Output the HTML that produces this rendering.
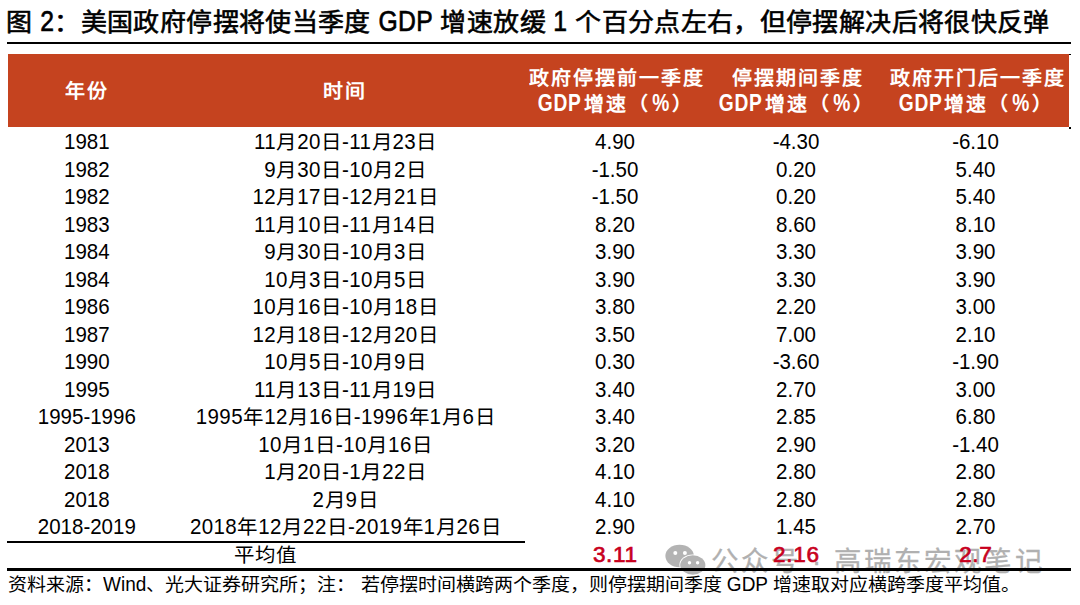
<!DOCTYPE html>
<html lang="zh-CN"><head><meta charset="utf-8"><style>
html,body{margin:0;padding:0;background:#fff;}
body{width:1080px;height:605px;overflow:hidden;position:relative;font-family:"Liberation Sans",sans-serif;color:#000;}
.S{display:inline-block;}
.title{position:absolute;left:6.3px;top:4px;font-size:26px;font-weight:400;-webkit-text-stroke:0.6px #000;white-space:nowrap;line-height:36px;letter-spacing:0.36px;}
.line{position:absolute;background:#000;}
.hdr{position:absolute;left:7.5px;top:54px;width:1061.5px;height:73px;background:#C5431F;}
.h{position:absolute;width:400px;text-align:center;color:#fff;font-weight:700;font-size:20px;line-height:25.5px;white-space:nowrap;letter-spacing:2px;text-indent:2px;}
.h .S.L{letter-spacing:0.7px;}
.row{position:absolute;left:0;width:1080px;height:27.52px;}
.c{position:absolute;top:0;width:400px;text-align:center;font-size:20.5px;line-height:27.52px;white-space:nowrap;}
.d{letter-spacing:0.4px;text-indent:0.4px;}
.red{color:#C8001E;font-weight:400;-webkit-text-stroke:0.7px #C8001E;font-size:22.5px;top:0px;letter-spacing:0.7px;text-indent:0.7px;}
.avg{top:0px;letter-spacing:1px;text-indent:1px;}
.wm{position:absolute;color:#b0b0b0;font-size:27.5px;white-space:nowrap;letter-spacing:3.1px;line-height:30px;-webkit-text-stroke:0.3px #b0b0b0;}
.foot{position:absolute;left:8px;top:571.5px;font-size:19px;line-height:26px;white-space:nowrap;}
</style></head><body>
<div class="title"><span class="S" style="transform:scaleY(0.94);transform-origin:50% 27.01px">图</span> <span class="S L" style="transform:scale(0.95,1.13);transform-origin:50% 27.01px;margin:0 -0.37px">2</span><span class="S" style="transform:scaleY(0.94);transform-origin:50% 27.01px">：美国政府停摆将使当季度</span> <span class="S L" style="transform:scale(0.95,1.13);transform-origin:50% 27.01px;margin:0 -1.44px">GDP</span> <span class="S" style="transform:scaleY(0.94);transform-origin:50% 27.01px">增速放缓</span> <span class="S L" style="transform:scale(0.95,1.13);transform-origin:50% 27.01px;margin:0 -0.37px">1</span> <span class="S" style="transform:scaleY(0.94);transform-origin:50% 27.01px">个百分点左右，但停摆解决后将很快反弹</span></div>
<div class="line" style="left:7px;top:42px;width:1064px;height:2px"></div>
<div class="hdr"></div>
<div class="h" style="left:-114.7px;top:78.8px"><span class="S" style="transform:scaleY(0.95);transform-origin:50% 19.68px">年份</span></div>
<div class="h" style="left:143px;top:78.8px"><span class="S" style="transform:scaleY(0.95);transform-origin:50% 19.68px">时间</span></div>
<div class="h" style="left:415px;top:66px"><span class="S" style="transform:scaleY(0.95);transform-origin:50% 19.68px">政府停摆前一季度</span><br><span class="S L" style="transform:scale(0.96,1.16);transform-origin:50% 19.68px;margin:0 -0.91px">GDP</span><span class="S" style="transform:scaleY(0.95);transform-origin:50% 19.68px">增速（</span><span class="S L" style="transform:scale(0.96,1.16);transform-origin:50% 19.68px;margin:0 -0.37px">%</span><span class="S" style="transform:scaleY(0.95);transform-origin:50% 19.68px">）</span></div>
<div class="h" style="left:596px;top:66px"><span class="S" style="transform:scaleY(0.95);transform-origin:50% 19.68px">停摆期间季度</span><br><span class="S L" style="transform:scale(0.96,1.16);transform-origin:50% 19.68px;margin:0 -0.91px">GDP</span><span class="S" style="transform:scaleY(0.95);transform-origin:50% 19.68px">增速（</span><span class="S L" style="transform:scale(0.96,1.16);transform-origin:50% 19.68px;margin:0 -0.37px">%</span><span class="S" style="transform:scaleY(0.95);transform-origin:50% 19.68px">）</span></div>
<div class="h" style="left:775.5px;top:66px"><span class="S" style="transform:scaleY(0.95);transform-origin:50% 19.68px">政府开门后一季度</span><br><span class="S L" style="transform:scale(0.96,1.16);transform-origin:50% 19.68px;margin:0 -0.91px">GDP</span><span class="S" style="transform:scaleY(0.95);transform-origin:50% 19.68px">增速（</span><span class="S L" style="transform:scale(0.96,1.16);transform-origin:50% 19.68px;margin:0 -0.37px">%</span><span class="S" style="transform:scaleY(0.95);transform-origin:50% 19.68px">）</span></div>

<div class="row" style="top:128.20px"><div class="c " style="left:-113.2px"><span class="S L" style="transform:scale(1.0,1.06);transform-origin:50% 20.86px">1981</span></div><div class="c  d" style="left:145.0px"><span class="S L" style="transform:scale(1.0,1.06);transform-origin:50% 20.86px">11</span><span class="S" style="transform:scaleY(0.95);transform-origin:50% 20.86px">月</span><span class="S L" style="transform:scale(1.0,1.06);transform-origin:50% 20.86px">20</span><span class="S" style="transform:scaleY(0.95);transform-origin:50% 20.86px">日</span><span class="S L" style="transform:scale(1.0,1.06);transform-origin:50% 20.86px">-11</span><span class="S" style="transform:scaleY(0.95);transform-origin:50% 20.86px">月</span><span class="S L" style="transform:scale(1.0,1.06);transform-origin:50% 20.86px">23</span><span class="S" style="transform:scaleY(0.95);transform-origin:50% 20.86px">日</span></div><div class="c " style="left:415.0px"><span class="S L" style="transform:scale(1.0,1.06);transform-origin:50% 20.86px">4.90</span></div><div class="c " style="left:596.0px"><span class="S L" style="transform:scale(1.0,1.06);transform-origin:50% 20.86px">-4.30</span></div><div class="c " style="left:775.5px"><span class="S L" style="transform:scale(1.0,1.06);transform-origin:50% 20.86px">-6.10</span></div></div>
<div class="row" style="top:155.72px"><div class="c " style="left:-113.2px"><span class="S L" style="transform:scale(1.0,1.06);transform-origin:50% 20.86px">1982</span></div><div class="c  d" style="left:145.0px"><span class="S L" style="transform:scale(1.0,1.06);transform-origin:50% 20.86px">9</span><span class="S" style="transform:scaleY(0.95);transform-origin:50% 20.86px">月</span><span class="S L" style="transform:scale(1.0,1.06);transform-origin:50% 20.86px">30</span><span class="S" style="transform:scaleY(0.95);transform-origin:50% 20.86px">日</span><span class="S L" style="transform:scale(1.0,1.06);transform-origin:50% 20.86px">-10</span><span class="S" style="transform:scaleY(0.95);transform-origin:50% 20.86px">月</span><span class="S L" style="transform:scale(1.0,1.06);transform-origin:50% 20.86px">2</span><span class="S" style="transform:scaleY(0.95);transform-origin:50% 20.86px">日</span></div><div class="c " style="left:415.0px"><span class="S L" style="transform:scale(1.0,1.06);transform-origin:50% 20.86px">-1.50</span></div><div class="c " style="left:596.0px"><span class="S L" style="transform:scale(1.0,1.06);transform-origin:50% 20.86px">0.20</span></div><div class="c " style="left:775.5px"><span class="S L" style="transform:scale(1.0,1.06);transform-origin:50% 20.86px">5.40</span></div></div>
<div class="row" style="top:183.24px"><div class="c " style="left:-113.2px"><span class="S L" style="transform:scale(1.0,1.06);transform-origin:50% 20.86px">1982</span></div><div class="c  d" style="left:145.0px"><span class="S L" style="transform:scale(1.0,1.06);transform-origin:50% 20.86px">12</span><span class="S" style="transform:scaleY(0.95);transform-origin:50% 20.86px">月</span><span class="S L" style="transform:scale(1.0,1.06);transform-origin:50% 20.86px">17</span><span class="S" style="transform:scaleY(0.95);transform-origin:50% 20.86px">日</span><span class="S L" style="transform:scale(1.0,1.06);transform-origin:50% 20.86px">-12</span><span class="S" style="transform:scaleY(0.95);transform-origin:50% 20.86px">月</span><span class="S L" style="transform:scale(1.0,1.06);transform-origin:50% 20.86px">21</span><span class="S" style="transform:scaleY(0.95);transform-origin:50% 20.86px">日</span></div><div class="c " style="left:415.0px"><span class="S L" style="transform:scale(1.0,1.06);transform-origin:50% 20.86px">-1.50</span></div><div class="c " style="left:596.0px"><span class="S L" style="transform:scale(1.0,1.06);transform-origin:50% 20.86px">0.20</span></div><div class="c " style="left:775.5px"><span class="S L" style="transform:scale(1.0,1.06);transform-origin:50% 20.86px">5.40</span></div></div>
<div class="row" style="top:210.76px"><div class="c " style="left:-113.2px"><span class="S L" style="transform:scale(1.0,1.06);transform-origin:50% 20.86px">1983</span></div><div class="c  d" style="left:145.0px"><span class="S L" style="transform:scale(1.0,1.06);transform-origin:50% 20.86px">11</span><span class="S" style="transform:scaleY(0.95);transform-origin:50% 20.86px">月</span><span class="S L" style="transform:scale(1.0,1.06);transform-origin:50% 20.86px">10</span><span class="S" style="transform:scaleY(0.95);transform-origin:50% 20.86px">日</span><span class="S L" style="transform:scale(1.0,1.06);transform-origin:50% 20.86px">-11</span><span class="S" style="transform:scaleY(0.95);transform-origin:50% 20.86px">月</span><span class="S L" style="transform:scale(1.0,1.06);transform-origin:50% 20.86px">14</span><span class="S" style="transform:scaleY(0.95);transform-origin:50% 20.86px">日</span></div><div class="c " style="left:415.0px"><span class="S L" style="transform:scale(1.0,1.06);transform-origin:50% 20.86px">8.20</span></div><div class="c " style="left:596.0px"><span class="S L" style="transform:scale(1.0,1.06);transform-origin:50% 20.86px">8.60</span></div><div class="c " style="left:775.5px"><span class="S L" style="transform:scale(1.0,1.06);transform-origin:50% 20.86px">8.10</span></div></div>
<div class="row" style="top:238.28px"><div class="c " style="left:-113.2px"><span class="S L" style="transform:scale(1.0,1.06);transform-origin:50% 20.86px">1984</span></div><div class="c  d" style="left:145.0px"><span class="S L" style="transform:scale(1.0,1.06);transform-origin:50% 20.86px">9</span><span class="S" style="transform:scaleY(0.95);transform-origin:50% 20.86px">月</span><span class="S L" style="transform:scale(1.0,1.06);transform-origin:50% 20.86px">30</span><span class="S" style="transform:scaleY(0.95);transform-origin:50% 20.86px">日</span><span class="S L" style="transform:scale(1.0,1.06);transform-origin:50% 20.86px">-10</span><span class="S" style="transform:scaleY(0.95);transform-origin:50% 20.86px">月</span><span class="S L" style="transform:scale(1.0,1.06);transform-origin:50% 20.86px">3</span><span class="S" style="transform:scaleY(0.95);transform-origin:50% 20.86px">日</span></div><div class="c " style="left:415.0px"><span class="S L" style="transform:scale(1.0,1.06);transform-origin:50% 20.86px">3.90</span></div><div class="c " style="left:596.0px"><span class="S L" style="transform:scale(1.0,1.06);transform-origin:50% 20.86px">3.30</span></div><div class="c " style="left:775.5px"><span class="S L" style="transform:scale(1.0,1.06);transform-origin:50% 20.86px">3.90</span></div></div>
<div class="row" style="top:265.80px"><div class="c " style="left:-113.2px"><span class="S L" style="transform:scale(1.0,1.06);transform-origin:50% 20.86px">1984</span></div><div class="c  d" style="left:145.0px"><span class="S L" style="transform:scale(1.0,1.06);transform-origin:50% 20.86px">10</span><span class="S" style="transform:scaleY(0.95);transform-origin:50% 20.86px">月</span><span class="S L" style="transform:scale(1.0,1.06);transform-origin:50% 20.86px">3</span><span class="S" style="transform:scaleY(0.95);transform-origin:50% 20.86px">日</span><span class="S L" style="transform:scale(1.0,1.06);transform-origin:50% 20.86px">-10</span><span class="S" style="transform:scaleY(0.95);transform-origin:50% 20.86px">月</span><span class="S L" style="transform:scale(1.0,1.06);transform-origin:50% 20.86px">5</span><span class="S" style="transform:scaleY(0.95);transform-origin:50% 20.86px">日</span></div><div class="c " style="left:415.0px"><span class="S L" style="transform:scale(1.0,1.06);transform-origin:50% 20.86px">3.90</span></div><div class="c " style="left:596.0px"><span class="S L" style="transform:scale(1.0,1.06);transform-origin:50% 20.86px">3.30</span></div><div class="c " style="left:775.5px"><span class="S L" style="transform:scale(1.0,1.06);transform-origin:50% 20.86px">3.90</span></div></div>
<div class="row" style="top:293.32px"><div class="c " style="left:-113.2px"><span class="S L" style="transform:scale(1.0,1.06);transform-origin:50% 20.86px">1986</span></div><div class="c  d" style="left:145.0px"><span class="S L" style="transform:scale(1.0,1.06);transform-origin:50% 20.86px">10</span><span class="S" style="transform:scaleY(0.95);transform-origin:50% 20.86px">月</span><span class="S L" style="transform:scale(1.0,1.06);transform-origin:50% 20.86px">16</span><span class="S" style="transform:scaleY(0.95);transform-origin:50% 20.86px">日</span><span class="S L" style="transform:scale(1.0,1.06);transform-origin:50% 20.86px">-10</span><span class="S" style="transform:scaleY(0.95);transform-origin:50% 20.86px">月</span><span class="S L" style="transform:scale(1.0,1.06);transform-origin:50% 20.86px">18</span><span class="S" style="transform:scaleY(0.95);transform-origin:50% 20.86px">日</span></div><div class="c " style="left:415.0px"><span class="S L" style="transform:scale(1.0,1.06);transform-origin:50% 20.86px">3.80</span></div><div class="c " style="left:596.0px"><span class="S L" style="transform:scale(1.0,1.06);transform-origin:50% 20.86px">2.20</span></div><div class="c " style="left:775.5px"><span class="S L" style="transform:scale(1.0,1.06);transform-origin:50% 20.86px">3.00</span></div></div>
<div class="row" style="top:320.84px"><div class="c " style="left:-113.2px"><span class="S L" style="transform:scale(1.0,1.06);transform-origin:50% 20.86px">1987</span></div><div class="c  d" style="left:145.0px"><span class="S L" style="transform:scale(1.0,1.06);transform-origin:50% 20.86px">12</span><span class="S" style="transform:scaleY(0.95);transform-origin:50% 20.86px">月</span><span class="S L" style="transform:scale(1.0,1.06);transform-origin:50% 20.86px">18</span><span class="S" style="transform:scaleY(0.95);transform-origin:50% 20.86px">日</span><span class="S L" style="transform:scale(1.0,1.06);transform-origin:50% 20.86px">-12</span><span class="S" style="transform:scaleY(0.95);transform-origin:50% 20.86px">月</span><span class="S L" style="transform:scale(1.0,1.06);transform-origin:50% 20.86px">20</span><span class="S" style="transform:scaleY(0.95);transform-origin:50% 20.86px">日</span></div><div class="c " style="left:415.0px"><span class="S L" style="transform:scale(1.0,1.06);transform-origin:50% 20.86px">3.50</span></div><div class="c " style="left:596.0px"><span class="S L" style="transform:scale(1.0,1.06);transform-origin:50% 20.86px">7.00</span></div><div class="c " style="left:775.5px"><span class="S L" style="transform:scale(1.0,1.06);transform-origin:50% 20.86px">2.10</span></div></div>
<div class="row" style="top:348.36px"><div class="c " style="left:-113.2px"><span class="S L" style="transform:scale(1.0,1.06);transform-origin:50% 20.86px">1990</span></div><div class="c  d" style="left:145.0px"><span class="S L" style="transform:scale(1.0,1.06);transform-origin:50% 20.86px">10</span><span class="S" style="transform:scaleY(0.95);transform-origin:50% 20.86px">月</span><span class="S L" style="transform:scale(1.0,1.06);transform-origin:50% 20.86px">5</span><span class="S" style="transform:scaleY(0.95);transform-origin:50% 20.86px">日</span><span class="S L" style="transform:scale(1.0,1.06);transform-origin:50% 20.86px">-10</span><span class="S" style="transform:scaleY(0.95);transform-origin:50% 20.86px">月</span><span class="S L" style="transform:scale(1.0,1.06);transform-origin:50% 20.86px">9</span><span class="S" style="transform:scaleY(0.95);transform-origin:50% 20.86px">日</span></div><div class="c " style="left:415.0px"><span class="S L" style="transform:scale(1.0,1.06);transform-origin:50% 20.86px">0.30</span></div><div class="c " style="left:596.0px"><span class="S L" style="transform:scale(1.0,1.06);transform-origin:50% 20.86px">-3.60</span></div><div class="c " style="left:775.5px"><span class="S L" style="transform:scale(1.0,1.06);transform-origin:50% 20.86px">-1.90</span></div></div>
<div class="row" style="top:375.88px"><div class="c " style="left:-113.2px"><span class="S L" style="transform:scale(1.0,1.06);transform-origin:50% 20.86px">1995</span></div><div class="c  d" style="left:145.0px"><span class="S L" style="transform:scale(1.0,1.06);transform-origin:50% 20.86px">11</span><span class="S" style="transform:scaleY(0.95);transform-origin:50% 20.86px">月</span><span class="S L" style="transform:scale(1.0,1.06);transform-origin:50% 20.86px">13</span><span class="S" style="transform:scaleY(0.95);transform-origin:50% 20.86px">日</span><span class="S L" style="transform:scale(1.0,1.06);transform-origin:50% 20.86px">-11</span><span class="S" style="transform:scaleY(0.95);transform-origin:50% 20.86px">月</span><span class="S L" style="transform:scale(1.0,1.06);transform-origin:50% 20.86px">19</span><span class="S" style="transform:scaleY(0.95);transform-origin:50% 20.86px">日</span></div><div class="c " style="left:415.0px"><span class="S L" style="transform:scale(1.0,1.06);transform-origin:50% 20.86px">3.40</span></div><div class="c " style="left:596.0px"><span class="S L" style="transform:scale(1.0,1.06);transform-origin:50% 20.86px">2.70</span></div><div class="c " style="left:775.5px"><span class="S L" style="transform:scale(1.0,1.06);transform-origin:50% 20.86px">3.00</span></div></div>
<div class="row" style="top:403.40px"><div class="c " style="left:-113.2px"><span class="S L" style="transform:scale(1.0,1.06);transform-origin:50% 20.86px">1995-1996</span></div><div class="c  d" style="left:145.0px"><span class="S L" style="transform:scale(1.0,1.06);transform-origin:50% 20.86px">1995</span><span class="S" style="transform:scaleY(0.95);transform-origin:50% 20.86px">年</span><span class="S L" style="transform:scale(1.0,1.06);transform-origin:50% 20.86px">12</span><span class="S" style="transform:scaleY(0.95);transform-origin:50% 20.86px">月</span><span class="S L" style="transform:scale(1.0,1.06);transform-origin:50% 20.86px">16</span><span class="S" style="transform:scaleY(0.95);transform-origin:50% 20.86px">日</span><span class="S L" style="transform:scale(1.0,1.06);transform-origin:50% 20.86px">-1996</span><span class="S" style="transform:scaleY(0.95);transform-origin:50% 20.86px">年</span><span class="S L" style="transform:scale(1.0,1.06);transform-origin:50% 20.86px">1</span><span class="S" style="transform:scaleY(0.95);transform-origin:50% 20.86px">月</span><span class="S L" style="transform:scale(1.0,1.06);transform-origin:50% 20.86px">6</span><span class="S" style="transform:scaleY(0.95);transform-origin:50% 20.86px">日</span></div><div class="c " style="left:415.0px"><span class="S L" style="transform:scale(1.0,1.06);transform-origin:50% 20.86px">3.40</span></div><div class="c " style="left:596.0px"><span class="S L" style="transform:scale(1.0,1.06);transform-origin:50% 20.86px">2.85</span></div><div class="c " style="left:775.5px"><span class="S L" style="transform:scale(1.0,1.06);transform-origin:50% 20.86px">6.80</span></div></div>
<div class="row" style="top:430.92px"><div class="c " style="left:-113.2px"><span class="S L" style="transform:scale(1.0,1.06);transform-origin:50% 20.86px">2013</span></div><div class="c  d" style="left:145.0px"><span class="S L" style="transform:scale(1.0,1.06);transform-origin:50% 20.86px">10</span><span class="S" style="transform:scaleY(0.95);transform-origin:50% 20.86px">月</span><span class="S L" style="transform:scale(1.0,1.06);transform-origin:50% 20.86px">1</span><span class="S" style="transform:scaleY(0.95);transform-origin:50% 20.86px">日</span><span class="S L" style="transform:scale(1.0,1.06);transform-origin:50% 20.86px">-10</span><span class="S" style="transform:scaleY(0.95);transform-origin:50% 20.86px">月</span><span class="S L" style="transform:scale(1.0,1.06);transform-origin:50% 20.86px">16</span><span class="S" style="transform:scaleY(0.95);transform-origin:50% 20.86px">日</span></div><div class="c " style="left:415.0px"><span class="S L" style="transform:scale(1.0,1.06);transform-origin:50% 20.86px">3.20</span></div><div class="c " style="left:596.0px"><span class="S L" style="transform:scale(1.0,1.06);transform-origin:50% 20.86px">2.90</span></div><div class="c " style="left:775.5px"><span class="S L" style="transform:scale(1.0,1.06);transform-origin:50% 20.86px">-1.40</span></div></div>
<div class="row" style="top:458.44px"><div class="c " style="left:-113.2px"><span class="S L" style="transform:scale(1.0,1.06);transform-origin:50% 20.86px">2018</span></div><div class="c  d" style="left:145.0px"><span class="S L" style="transform:scale(1.0,1.06);transform-origin:50% 20.86px">1</span><span class="S" style="transform:scaleY(0.95);transform-origin:50% 20.86px">月</span><span class="S L" style="transform:scale(1.0,1.06);transform-origin:50% 20.86px">20</span><span class="S" style="transform:scaleY(0.95);transform-origin:50% 20.86px">日</span><span class="S L" style="transform:scale(1.0,1.06);transform-origin:50% 20.86px">-1</span><span class="S" style="transform:scaleY(0.95);transform-origin:50% 20.86px">月</span><span class="S L" style="transform:scale(1.0,1.06);transform-origin:50% 20.86px">22</span><span class="S" style="transform:scaleY(0.95);transform-origin:50% 20.86px">日</span></div><div class="c " style="left:415.0px"><span class="S L" style="transform:scale(1.0,1.06);transform-origin:50% 20.86px">4.10</span></div><div class="c " style="left:596.0px"><span class="S L" style="transform:scale(1.0,1.06);transform-origin:50% 20.86px">2.80</span></div><div class="c " style="left:775.5px"><span class="S L" style="transform:scale(1.0,1.06);transform-origin:50% 20.86px">2.80</span></div></div>
<div class="row" style="top:485.96px"><div class="c " style="left:-113.2px"><span class="S L" style="transform:scale(1.0,1.06);transform-origin:50% 20.86px">2018</span></div><div class="c  d" style="left:145.0px"><span class="S L" style="transform:scale(1.0,1.06);transform-origin:50% 20.86px">2</span><span class="S" style="transform:scaleY(0.95);transform-origin:50% 20.86px">月</span><span class="S L" style="transform:scale(1.0,1.06);transform-origin:50% 20.86px">9</span><span class="S" style="transform:scaleY(0.95);transform-origin:50% 20.86px">日</span></div><div class="c " style="left:415.0px"><span class="S L" style="transform:scale(1.0,1.06);transform-origin:50% 20.86px">4.10</span></div><div class="c " style="left:596.0px"><span class="S L" style="transform:scale(1.0,1.06);transform-origin:50% 20.86px">2.80</span></div><div class="c " style="left:775.5px"><span class="S L" style="transform:scale(1.0,1.06);transform-origin:50% 20.86px">2.80</span></div></div>
<div class="row" style="top:513.48px"><div class="c " style="left:-113.2px"><span class="S L" style="transform:scale(1.0,1.06);transform-origin:50% 20.86px">2018-2019</span></div><div class="c  d" style="left:145.0px"><span class="S L" style="transform:scale(1.0,1.06);transform-origin:50% 20.86px">2018</span><span class="S" style="transform:scaleY(0.95);transform-origin:50% 20.86px">年</span><span class="S L" style="transform:scale(1.0,1.06);transform-origin:50% 20.86px">12</span><span class="S" style="transform:scaleY(0.95);transform-origin:50% 20.86px">月</span><span class="S L" style="transform:scale(1.0,1.06);transform-origin:50% 20.86px">22</span><span class="S" style="transform:scaleY(0.95);transform-origin:50% 20.86px">日</span><span class="S L" style="transform:scale(1.0,1.06);transform-origin:50% 20.86px">-2019</span><span class="S" style="transform:scaleY(0.95);transform-origin:50% 20.86px">年</span><span class="S L" style="transform:scale(1.0,1.06);transform-origin:50% 20.86px">1</span><span class="S" style="transform:scaleY(0.95);transform-origin:50% 20.86px">月</span><span class="S L" style="transform:scale(1.0,1.06);transform-origin:50% 20.86px">26</span><span class="S" style="transform:scaleY(0.95);transform-origin:50% 20.86px">日</span></div><div class="c " style="left:415.0px"><span class="S L" style="transform:scale(1.0,1.06);transform-origin:50% 20.86px">2.90</span></div><div class="c " style="left:596.0px"><span class="S L" style="transform:scale(1.0,1.06);transform-origin:50% 20.86px">1.45</span></div><div class="c " style="left:775.5px"><span class="S L" style="transform:scale(1.0,1.06);transform-origin:50% 20.86px">2.70</span></div></div>
<svg style="position:absolute;left:0;top:0" width="1080" height="605"><g fill="#b3b3b3"><ellipse cx="679.6" cy="556" rx="14.2" ry="11.2"/><ellipse cx="692.8" cy="565" rx="13.4" ry="10.5" fill="#fff"/><ellipse cx="692.8" cy="565" rx="12.6" ry="9.7"/></g><g fill="#fff"><circle cx="675.3" cy="553" r="2"/><circle cx="684.9" cy="553" r="2"/><circle cx="689.5" cy="562.8" r="1.7"/><circle cx="697.6" cy="562.8" r="1.7"/></g></svg>
<div class="wm" style="left:711px;top:547px">公众号</div><div class="wm" style="left:812px;top:547px">·</div><div class="wm" style="left:834px;top:547px">高瑞东宏观笔记</div>
<div class="row" style="top:541.00px"><div class="c avg" style="left:64.5px"><span class="S" style="transform:scaleY(0.95);transform-origin:50% 20.86px">平均值</span></div><div class="c red" style="left:415.0px">3.11</div><div class="c red" style="left:596.0px">2.16</div><div class="c red" style="left:775.5px">2.7</div></div>
<div class="line" style="left:7px;top:541px;width:518px;height:1.5px"></div>
<div class="line" style="left:7px;top:568px;width:1064px;height:3px"></div>
<div class="line" style="left:1069px;top:53.5px;width:2px;height:1.5px"></div>
<div class="line" style="left:1069px;top:127px;width:2px;height:1.5px"></div>
<div class="foot"><span class="S" style="transform:scaleY(0.93);transform-origin:50% 19.58px">资料来源：</span><span class="S L" style="transform:scale(1.0,1.1);transform-origin:50% 19.58px">Wind</span><span class="S" style="transform:scaleY(0.93);transform-origin:50% 19.58px">、光大证券研究所；注： 若停摆时间横跨两个季度，则停摆期间季度</span> <span class="S L" style="transform:scale(1.0,1.1);transform-origin:50% 19.58px">GDP</span> <span class="S" style="transform:scaleY(0.93);transform-origin:50% 19.58px">增速取对应横跨季度平均值。</span></div>
</body></html>
